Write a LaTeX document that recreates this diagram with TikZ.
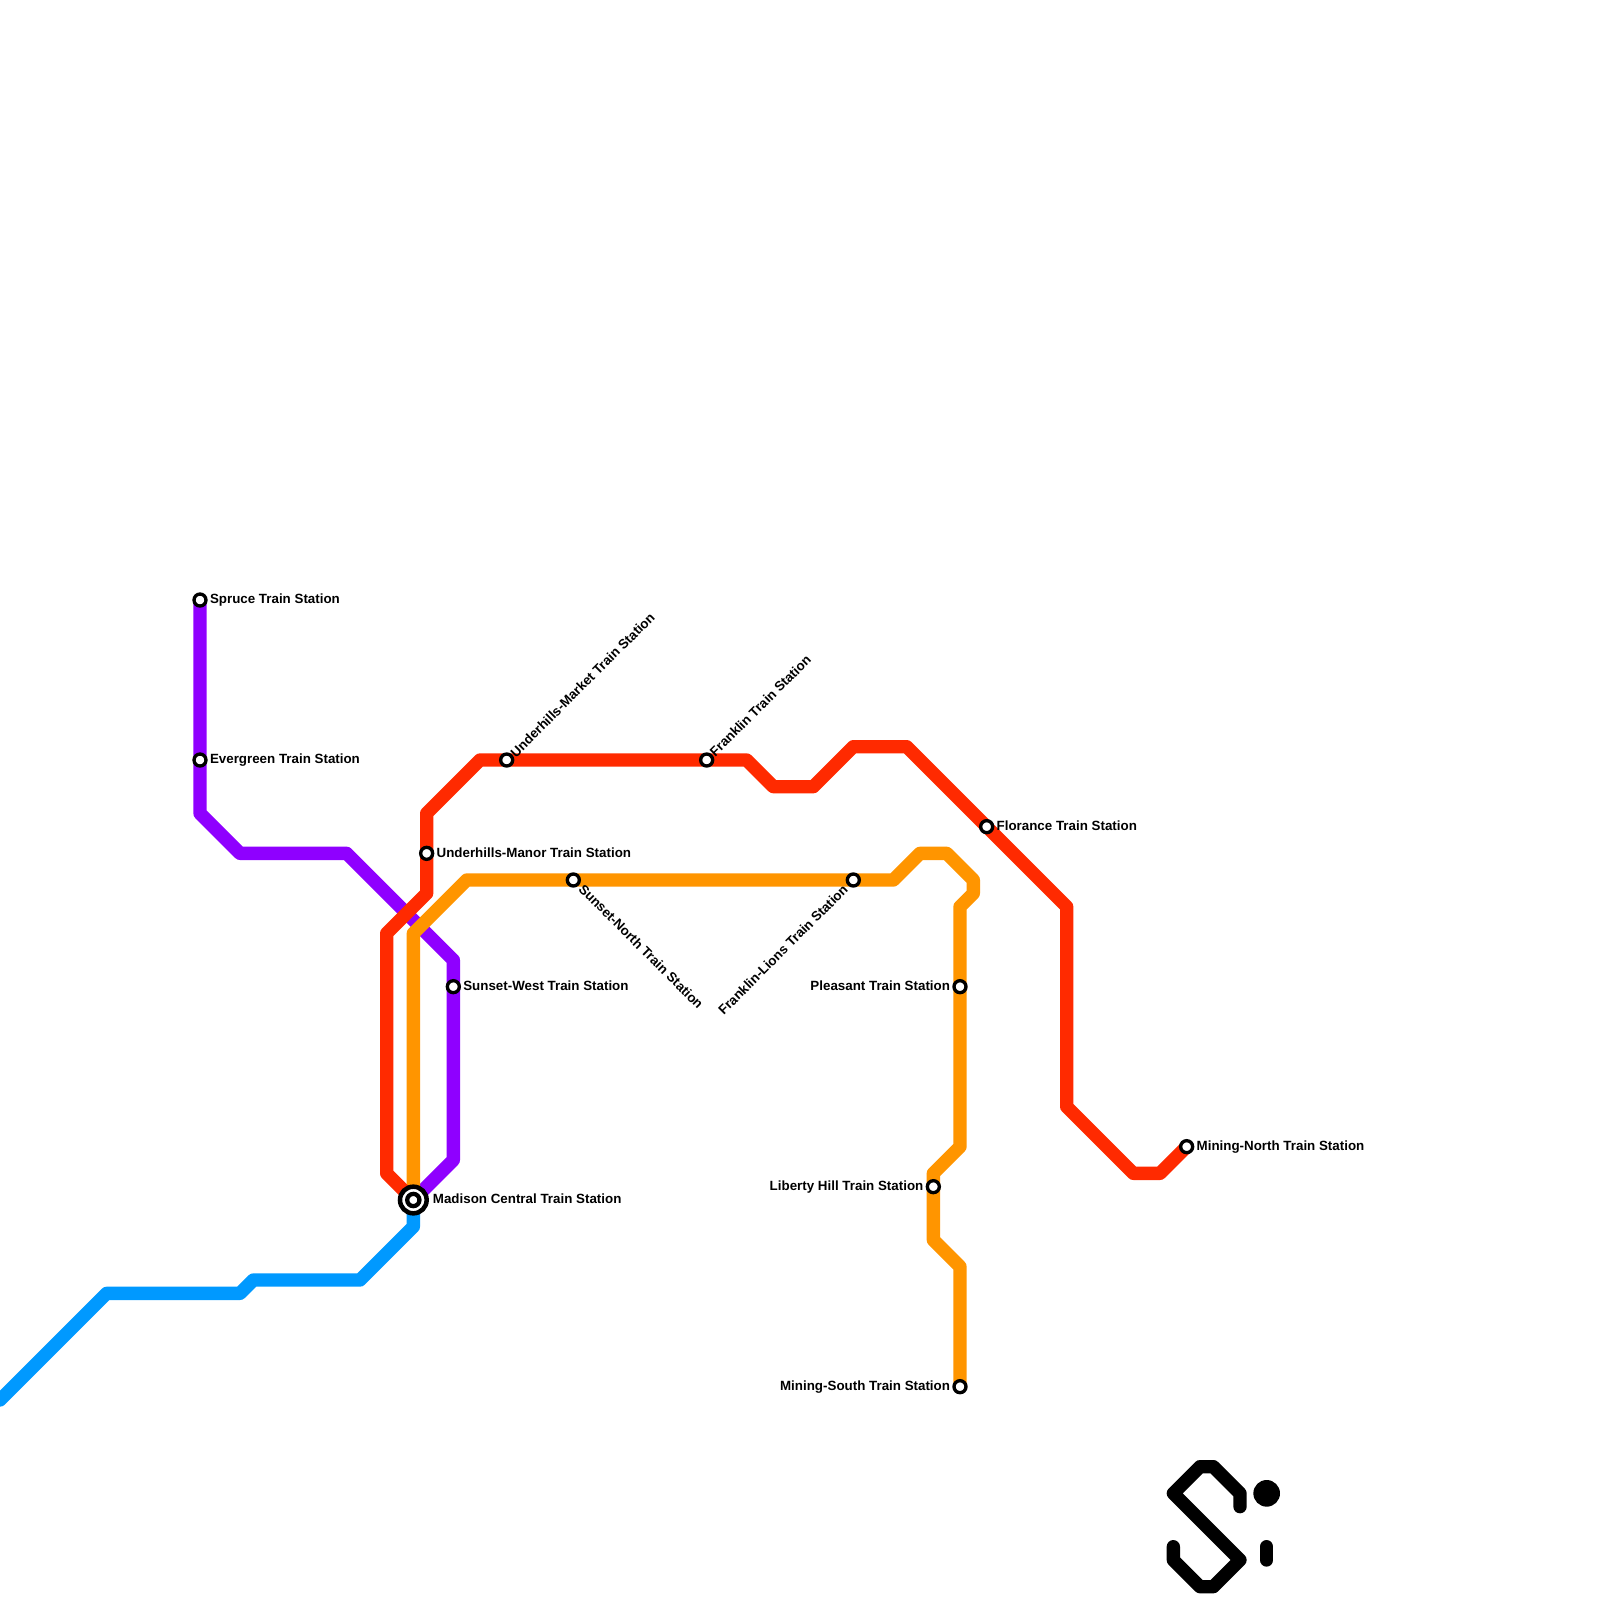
\documentclass[tikz,border=0pt]{standalone}
\usepackage{fontspec}
\setmainfont{Liberation Sans}
\usetikzlibrary{backgrounds}
\definecolor{cpurple}{HTML}{8F00FF}
\definecolor{cred}{HTML}{FF2A00}
\definecolor{corange}{HTML}{FF9500}
\definecolor{cblue}{HTML}{0099FF}
\tikzset{
  metro/.style={line width=0.1cm,line join=round,line cap=round},
  stn/.style={circle,draw=black,fill=white,line width=0.025cm,minimum size=0.09cm,inner sep=0pt,outer sep=0pt},
  hub/.style={circle,draw=black,fill=white,line width=0.034cm,minimum size=0.2cm,inner sep=0pt,outer sep=0pt},
  hubin/.style={circle,draw=black,fill=white,line width=0.032cm,minimum size=0.092cm,inner sep=0pt,outer sep=0pt},
  lab/.style={inner sep=0pt,outer sep=0pt,font=\fontsize{2.85pt}{3.4pt}\selectfont\bfseries},
  logo/.style={draw=black,line width=0.1cm,line join=round,line cap=round}
}
\begin{document}
\begin{tikzpicture}[x=0.1cm,y=-0.1cm]
\useasboundingbox (0,0) rectangle (120,120);
% stations
\node[stn] (spruce) at (15,45) {};
\node[stn] (evergreen) at (15,57) {};
\node[stn] (swest) at (34,74) {};
\node[stn] (umanor) at (32,64) {};
\node[stn] (umarket) at (38,57) {};
\node[stn] (franklin) at (53,57) {};
\node[stn] (florance) at (74,62) {};
\node[stn] (mnorth) at (89,86) {};
\node[stn] (snorth) at (43,66) {};
\node[stn] (flions) at (64,66) {};
\node[stn] (pleasant) at (72,74) {};
\node[stn] (liberty) at (70,89) {};
\node[stn] (msouth) at (72,104) {};
\node[hub] (madison) at (31,90) {};
\node[hubin] (madisonin) at (31,90) {};
\coordinate (bluestart) at (0,105);
% lines
\begin{pgfonlayer}{background}
\fill[white] (0,0) rectangle (120,120);
\draw[metro,cpurple] (spruce.center) -- (evergreen.center) -- (15,61) -- (18,64) -- (26,64) -- (34,72) -- (swest.center) -- (34,87) -- (madison.center);
\draw[metro,cblue] (madison.center) -- (31,92) -- (27,96) -- (19,96) -- (18,97) -- (8,97) -- (bluestart);
\draw[metro,corange] (madison.center) -- (31,70) -- (35,66) -- (snorth.center) -- (flions.center) -- (67,66) -- (69,64) -- (71,64) -- (73,66) -- (73,67) -- (72,68) -- (pleasant.center) -- (72,86) -- (70,88) -- (liberty.center) -- (70,93) -- (72,95) -- (msouth.center);
\draw[metro,cred] (madison.center) -- (29,88) -- (29,70) -- (32,67) -- (umanor.center) -- (32,61) -- (36,57) -- (umarket.center) -- (franklin.center) -- (56,57) -- (58,59) -- (61,59) -- (64,56) -- (68,56) -- (florance.center) -- (80,68) -- (80,83) -- (85,88) -- (87,88) -- (mnorth.center);
\end{pgfonlayer}
% labels
\node[lab,anchor=base west] (lspruce) at (15.75,45.29) {Spruce Train Station};
\node[lab,anchor=base west] (levergreen) at (15.75,57.29) {Evergreen Train Station};
\node[lab,anchor=base west] (lswest) at (34.75,74.29) {Sunset-West Train Station};
\node[lab,anchor=base west] (lumanor) at (32.75,64.29) {Underhills-Manor Train Station};
\node[lab,anchor=base west] (lflorance) at (74.75,62.29) {Florance Train Station};
\node[lab,anchor=base west] (lmnorth) at (89.75,86.29) {Mining-North Train Station};
\node[lab,anchor=base west] (lmadison) at (32.47,90.29) {Madison Central Train Station};
\node[lab,anchor=base east] (lpleasant) at (71.25,74.29) {Pleasant Train Station};
\node[lab,anchor=base east] (lliberty) at (69.25,89.29) {Liberty Hill Train Station};
\node[lab,anchor=base east] (lmsouth) at (71.25,104.29) {Mining-South Train Station};
\node[lab,anchor=west,rotate=45] (lumarket) at (38.45,56.6) {Underhills-Market Train Station};
\node[lab,anchor=west,rotate=45] (lfranklin) at (53.4,56.55) {Franklin Train Station};
\node[lab,anchor=west,rotate=-45] (lsnorth) at (43.6,66.5) {Sunset-North Train Station};
\node[lab,anchor=east,rotate=45] (lflions) at (63.4,66.55) {Franklin-Lions Train Station};
% logo
\draw[logo] (93,113) -- (93,112) -- (91,110) -- (90,110) -- (88,112) -- (93,117) -- (91,119) -- (90,119) -- (88,117) -- (88,116);
\draw[logo] (95,116) -- (95,117);
\fill[black] (95,112) circle (1);
\end{tikzpicture}
\end{document}
